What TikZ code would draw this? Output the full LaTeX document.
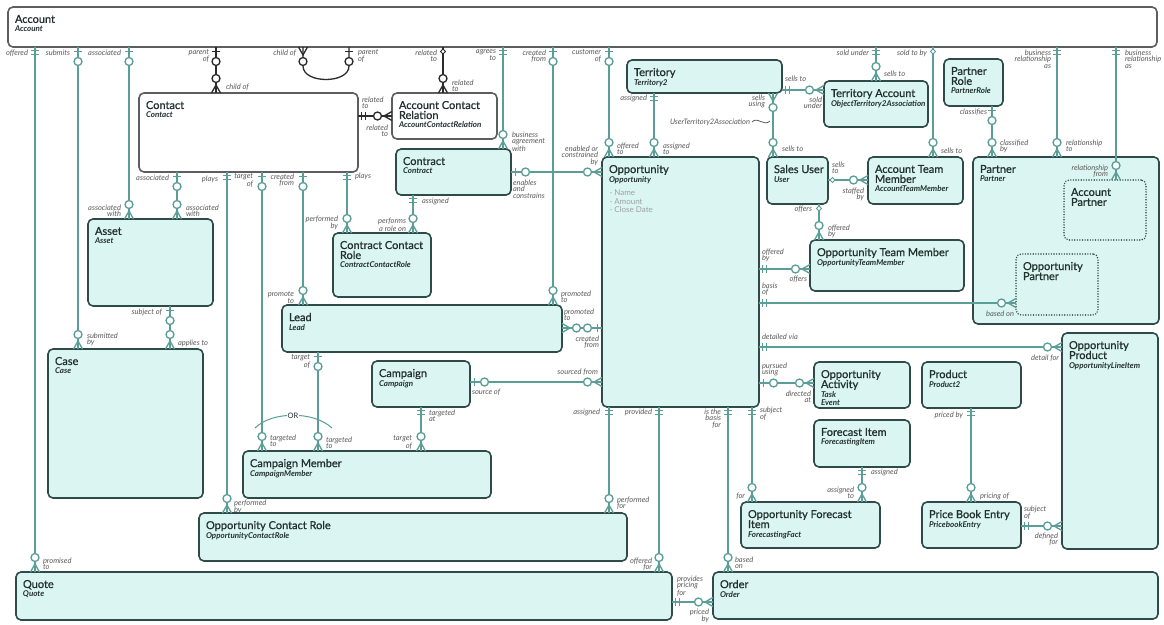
\documentclass[tikz,border=0pt]{standalone}
\usepackage{fontspec}
\setmainfont{Lato}
\newfontfamily\ttlf[FakeBold=0.8]{Lato}
\definecolor{tealln}{HTML}{5A9E97}
\definecolor{entbd}{HTML}{2F4B49}
\definecolor{entfl}{HTML}{DBF5F2}
\definecolor{labc}{HTML}{5A5A5A}
\definecolor{accbd}{HTML}{5E5E5E}
\definecolor{blk}{HTML}{2B2B2B}
\definecolor{txtc}{HTML}{22302F}
\definecolor{bulc}{HTML}{9AA3A2}
\newcommand\subf{\fontsize{8}{9}\selectfont\rmfamily\bfseries\itshape}
\newcounter{lb}
\newcommand\LL[3]{\stepcounter{lb}\node[lab,anchor=north east,align=right] (L\arabic{lb}) at (#1,#2) {#3};}
\newcommand\LR[3]{\stepcounter{lb}\node[lab,anchor=north west,align=left] (L\arabic{lb}) at (#1,#2) {#3};}
\newcommand\ENT[6]{\node[#1,minimum width={(#5-#3)*1pt},minimum height={(#6-#4)*1pt}] (#2) at (#3,#4) {};}
\newcommand\TT[3]{\node[ttl] (#1t) at ([shift={(7,8)}]#1.north west) {#2\\[-1pt]{\subf #3}};}
\newcommand\CV[6]{\draw[#1] (#2.south -| #4,0) -- (#3.north -| #4,0);
  \pic[rotate=-90] at (#2.south -| #4,0) {#5=#1};
  \pic[rotate=90] at (#3.north -| #4,0) {#6=#1};}
\newcommand\CH[6]{\draw[#1] (#2.east |- 0,#4) -- (#3.west |- 0,#4);
  \pic at (#2.east |- 0,#4) {#5=#1};
  \pic[rotate=180] at (#3.west |- 0,#4) {#6=#1};}
\tikzset{
  lnt/.style={draw=tealln,line width=1.3pt},
  lnk/.style={draw=blk,line width=1.3pt},
  ent/.style={draw=entbd,fill=entfl,line width=1.6pt,rounded corners=5pt,inner sep=0pt,outer sep=0pt,anchor=north west},
  wen/.style={ent,draw=accbd,fill=white},
  dt/.style={ent,dash pattern=on 0pt off 2.6pt,line cap=round,line width=1.6pt},
  ttl/.style={anchor=north west,inner sep=0pt,outer sep=0pt,align=left,font=\ttlf\fontsize{11}{10}\selectfont,text=txtc},
  lab/.style={inner sep=0pt,outer sep=0pt,font=\fontsize{7.5}{6.8}\selectfont\itshape,text=labc,yshift=3.5pt},
  pics/bb/.style={code={\draw[#1] (3.5,-4)--(3.5,4) (7.5,-4)--(7.5,4);}},
  pics/bo/.style={code={\draw[#1] (4.5,-4)--(4.5,4); \draw[#1,fill=white] (14.5,0) circle[radius=4pt];}},
  pics/co/.style={code={\draw[#1] (0,-4.5)--(8,0)--(0,4.5); \draw[#1,fill=white] (14.5,0) circle[radius=4pt];}},
  pics/dm/.style={code={\draw[#1,fill=white,line width=1pt] (2,0)--(4.5,-2.5)--(7,0)--(4.5,2.5)--cycle;}},
}
\begin{document}
\begin{tikzpicture}[x=1pt,y=-1pt]
\useasboundingbox (0,0) rectangle (1164,624);
\fill[white] (0,0) rectangle (1164,624);
% entities
\ENT{wen}{acc}{8}{7}{1157}{47}
\ENT{wen}{con}{139}{93}{358}{172}
\ENT{wen}{acr}{392}{93}{497}{139}
\ENT{ent}{ctr}{396}{149}{511}{195}
\ENT{ent}{opp}{602}{157}{759}{407}
\ENT{ent}{ter}{627}{60}{782}{93}
\ENT{ent}{ta}{824}{81}{928}{127}
\ENT{ent}{pr}{944}{59}{1003}{106}
\ENT{ent}{su}{767}{157}{828}{204}
\ENT{ent}{atm}{868}{157}{963}{204}
\ENT{ent}{par}{973}{157}{1159}{324}
\ENT{dt}{ap}{1064}{180}{1146}{240}
\ENT{dt}{opar}{1016}{254}{1098}{315}
\ENT{ent}{otm}{810}{240}{964}{291}
\ENT{ent}{ast}{88}{219}{213}{306}
\ENT{ent}{ccr}{333}{233}{431}{297}
\ENT{ent}{lead}{282}{305}{562}{352}
\ENT{ent}{case}{48}{349}{203}{498}
\ENT{ent}{cmp}{372}{361}{470}{407}
\ENT{ent}{cm}{243}{451}{491}{498}
\ENT{ent}{ocr}{199}{513}{627}{561}
\ENT{ent}{quo}{16}{572}{672}{620}
\ENT{ent}{ord}{713}{572}{1158}{619}
\ENT{ent}{opr}{1062}{333}{1158}{549}
\ENT{ent}{oa}{814}{362}{910}{408}
\ENT{ent}{prod}{922}{362}{1021}{408}
\ENT{ent}{fi}{814}{420}{910}{467}
\ENT{ent}{ofi}{741}{502}{880}{548}
\ENT{ent}{pbe}{922}{502}{1021}{548}
% titles
\TT{acc}{Account}{Account}
\TT{con}{Contact}{Contact}
\TT{acr}{Account Contact\\Relation}{AccountContactRelation}
\TT{ctr}{Contract}{Contract}
\TT{opp}{Opportunity}{Opportunity}
\node[anchor=north west,inner sep=0pt,align=left,font=\fontsize{8}{8.2}\selectfont,text=bulc] (oppb) at ([shift={(8,33)}]opp.north west) {· Name\\· Amount\\· Close Date};
\TT{ter}{Territory}{Territory2}
\TT{ta}{Territory Account}{ObjectTerritory2Association}
\TT{pr}{Partner\\Role}{PartnerRole}
\TT{su}{Sales User}{User}
\TT{atm}{Account Team\\Member}{AccountTeamMember}
\TT{par}{Partner}{Partner}
\node[ttl] (apt) at ([shift={(7,8)}]ap.north west) {Account\\Partner};
\node[ttl] (opart) at ([shift={(7,8)}]opar.north west) {Opportunity\\Partner};
\TT{otm}{Opportunity Team Member}{OpportunityTeamMember}
\TT{ast}{Asset}{Asset}
\TT{ccr}{Contract Contact\\Role}{ContractContactRole}
\TT{lead}{Lead}{Lead}
\TT{case}{Case}{Case}
\TT{cmp}{Campaign}{Campaign}
\TT{cm}{Campaign Member}{CampaignMember}
\TT{ocr}{Opportunity Contact Role}{OpportunityContactRole}
\TT{quo}{Quote}{Quote}
\TT{ord}{Order}{Order}
\TT{opr}{Opportunity\\Product}{OpportunityLineItem}
\node[ttl] (oat) at ([shift={(7,8)}]oa.north west) {Opportunity\\Activity\\[-1pt]{\subf Task}\\[-2pt]{\subf Event}};
\TT{prod}{Product}{Product2}
\TT{fi}{Forecast Item}{ForecastingItem}
\TT{ofi}{Opportunity Forecast\\Item}{ForecastingFact}
\TT{pbe}{Price Book Entry}{PricebookEntry}
% connectors
\CV{lnt}{acc}{quo}{35}{bb}{co}
\CV{lnt}{acc}{case}{78}{bo}{co}
\CV{lnt}{acc}{ast}{129}{bo}{co}
\CV{lnt}{con}{ast}{177}{bo}{co}
\CV{lnk}{acc}{con}{216}{bo}{co}
\CV{lnk}{acc}{acr}{443}{dm}{co}
\CV{lnt}{acc}{ctr}{503}{bb}{co}
\CV{lnt}{acc}{lead}{553}{bo}{co}
\CV{lnt}{acc}{opp}{609}{bo}{co}
\CV{lnt}{ter}{opp}{654}{bb}{co}
\CV{lnt}{ter}{su}{773}{co}{co}
\CV{lnt}{acc}{ta}{876}{bb}{co}
\CV{lnt}{acc}{atm}{933}{dm}{co}
\CV{lnt}{pr}{par}{992}{bo}{co}
\CV{lnt}{acc}{par}{1057}{bb}{co}
\CV{lnt}{acc}{ap}{1116}{bb}{co}
\CV{lnt}{su}{otm}{819}{dm}{co}
\CV{lnt}{opp}{ofi}{752}{bb}{co}
\CV{lnt}{fi}{ofi}{862}{bb}{co}
\CV{lnt}{prod}{pbe}{971}{bb}{co}
\CV{lnt}{opp}{ocr}{609}{bb}{co}
\CV{lnt}{opp}{quo}{659}{bb}{co}
\CV{lnt}{opp}{ord}{728}{bb}{co}
\CV{lnt}{con}{ocr}{227}{bb}{co}
\CV{lnt}{con}{cm}{262}{bo}{co}
\CV{lnt}{con}{lead}{303}{bo}{co}
\CV{lnt}{con}{ccr}{347}{bb}{co}
\CV{lnt}{ctr}{ccr}{413}{bb}{co}
\CV{lnt}{ast}{case}{170}{bo}{co}
\CV{lnt}{lead}{cm}{318}{bo}{co}
\CV{lnt}{cmp}{cm}{421}{bb}{co}
\CH{lnk}{con}{acr}{116}{bb}{co}
\CH{lnt}{ctr}{opp}{172}{bo}{co}
\CH{lnt}{ter}{ta}{90}{bb}{co}
\CH{lnt}{su}{atm}{180}{dm}{co}
\CH{lnt}{opp}{otm}{269}{bb}{co}
\CH{lnt}{opp}{opar}{303}{bb}{co}
\CH{lnt}{opp}{opr}{347}{bb}{co}
\CH{lnt}{opp}{oa}{383}{bo}{co}
\CH{lnt}{pbe}{opr}{526}{bb}{co}
\CH{lnt}{quo}{ord}{602}{bb}{co}
\CH{lnt}{lead}{opp}{328}{co}{bo}
\CH{lnt}{cmp}{opp}{382}{bo}{co}
% self loop on Account
\coordinate (loopA) at (303,66);
\coordinate (loopB) at (349,66);
\draw[lnk] (acc.south -| loopA) -- (loopA) .. controls (303,84) and (349,84) .. (loopB) -- (acc.south -| loopB);
\pic[rotate=-90] at (acc.south -| loopA) {co=lnk};
\pic[rotate=-90] at (acc.south -| loopB) {bo=lnk};
% OR arc
\coordinate (orA) at (255,428);
\coordinate (orB) at (332,428);
\draw[draw=tealln,line width=1pt] (orA) .. controls (272,411) and (314,411) .. (orB);
\node[fill=white,inner sep=0.8pt,font=\fontsize{7.5}{7.5}\selectfont,text=txtc] (orl) at (293,416) {OR};
% tilde
\coordinate (tA) at (752,122);
\coordinate (tB) at (770,121);
\draw[draw=labc,line width=0.8pt] (tA) .. controls (757,116) and (764,127) .. (tB);
% labels: Account bottom
\LL{28}{53}{offered}
\LL{70}{53}{submits}
\LL{121}{53}{associated}
\LL{209}{53}{parent\\of}
\LL{296}{53}{child of}
\LR{358}{53}{parent\\of}
\LL{437}{53}{related\\to}
\LL{496}{53}{agrees\\to}
\LL{546}{53}{created\\from}
\LL{601}{53}{customer\\of}
\LL{869}{53}{sold under}
\LL{927}{53}{sold to by}
\LL{1051}{53}{business\\relationship\\as}
\LR{1125}{53}{business\\relationship\\as}
% contact area
\LR{226}{87}{child of}
\LR{362}{100}{related\\to}
\LL{388}{128}{related\\to}
\LR{452}{83}{related\\to}
\LL{169}{178}{associated}
\LL{218}{179}{plays}
\LL{253}{177}{target\\of}
\LL{294}{177}{created\\from}
\LR{355}{176}{plays}
\LL{121}{208}{associated\\with}
\LR{186}{208}{associated\\with}
\LL{338}{219}{performed\\by}
\LL{406}{222}{performs\\a role on}
\LR{422}{201}{assigned}
\LL{162}{312}{subject of}
\LR{87}{336}{submitted\\by}
\LR{178}{343}{applies to}
\LL{294}{295}{promote\\to}
\LL{310}{358}{target\\of}
\LR{270}{438}{targeted\\to}
\LR{326}{440}{targeted\\to}
\LR{234}{503}{performed\\by}
\LR{43}{561}{promised\\to}
% contract / opportunity
\LR{512}{135}{business\\agreement\\with}
\LL{598}{149}{enabled or\\constrained\\by}
\LR{513}{183}{enables\\and\\constrains}
\LR{617}{146}{offered\\to}
\LR{663}{146}{assigned\\to}
\LR{561}{294}{promoted\\to}
\LR{564}{312}{promoted\\to}
\LL{599}{339}{created\\from}
\LL{598}{372}{sourced from}
\LR{472}{393}{source of}
\LR{429}{413}{targeted\\at}
\LL{412}{439}{target\\of}
\LL{600}{412}{assigned}
\LL{652}{412}{provided}
\LL{721}{412}{is the\\basis\\for}
\LR{617}{500}{performed\\for}
\LL{652}{561}{offered\\for}
\LR{735}{560}{based\\on}
\LR{677}{579}{provides\\pricing\\for}
\LL{709}{612}{priced\\by}
% territory area
\LL{647}{98}{assigned}
\LL{765}{98}{sells\\using}
\LL{750}{123}{UserTerritory2Association}
\LR{782}{149}{sells to}
\LR{785}{79}{sells to}
\LL{822}{100}{sold\\under}
\LR{884}{74}{sells to}
\LL{987}{112}{classifies}
\LR{1000}{143}{classified\\by}
\LR{1066}{143}{relationship\\to}
\LR{941}{151}{sells to}
\LL{1108}{168}{relationship\\from}
\LR{832}{165}{sells\\to}
\LL{864}{191}{staffed\\by}
\LL{812}{210}{offers}
\LR{828}{228}{offered\\by}
% opportunity right
\LR{762}{252}{offered\\by}
\LL{807}{280}{offers}
\LR{762}{286}{basis\\of}
\LL{1014}{314}{based on}
\LR{762}{337}{detailed via}
\LL{1059}{358}{detail for}
\LR{762}{366}{pursued\\using}
\LL{811}{394}{directed\\at}
\LR{760}{410}{subject\\of}
\LL{745}{497}{for}
\LR{871}{472}{assigned}
\LL{854}{490}{assigned\\to}
\LL{963}{415}{priced by}
\LR{980}{497}{pricing of}
\LR{1024}{509}{subject\\of}
\LL{1058}{536}{defined\\for}
\end{tikzpicture}
\end{document}
